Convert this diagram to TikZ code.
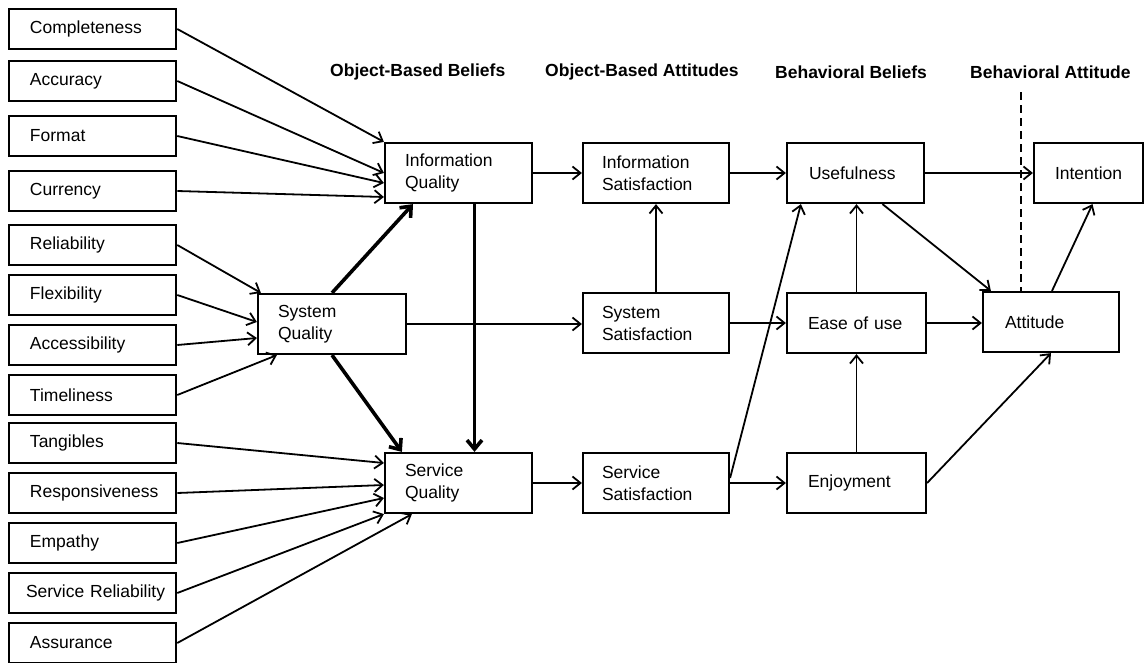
\documentclass[tikz,border=0pt]{standalone}
\usepackage{fontspec}
\setmainfont{Liberation Sans}
\usetikzlibrary{arrows.meta}
\hyphenpenalty=10000
\exhyphenpenalty=10000
\begin{document}
\begin{tikzpicture}[x=1pt,y=-1pt,
  every node/.style={font=\fontsize{17.5}{22}\selectfont},
  src/.style={draw, line width=2.6pt, minimum width=167pt, minimum height=40pt,
    inner ysep=0pt, inner xsep=21pt, text width=125pt, align=left},
  mid/.style={draw, line width=2.2pt, minimum height=60pt, inner ysep=0pt,
    inner xsep=20pt, align=left},
  head/.style={anchor=west, font=\fontsize{17.5}{22}\selectfont\bfseries, inner sep=0pt},
  arr/.style={line width=1.8pt, -{Straight Barb[length=8pt,width=13pt]}},
  thickarr/.style={line width=3.6pt, -{Straight Barb[length=9pt,width=15pt]}}
]
\useasboundingbox (0,0) rectangle (1144,662);

% column headers
\node[head] (h1) at (330,72) {Object-Based Beliefs};
\node[head] (h2) at (545,72) {Object-Based Attitudes};
\node[head] (h3) at (775,72) {Behavioral Beliefs};
\node[head] (h4) at (970,72) {Behavioral Attitude};

% antecedent dimensions
\node[src] (compl) at (92.5,29)  {Completeness};
\node[src] (acc)   at (92.5,81)  {Accuracy};
\node[src] (fmt)   at (92.5,136) {Format};
\node[src] (cur)   at (92.5,191) {Currency};
\node[src] (rel)   at (92.5,245) {Reliability};
\node[src] (flex)  at (92.5,295) {Flexibility};
\node[src] (accs)  at (92.5,345) {Accessibility};
\node[src] (time)  at (92.5,395) {Timeliness};
\node[src] (tang)  at (92.5,443) {Tangibles};
\node[src] (resp)  at (92.5,493) {Responsiveness};
\node[src] (emp)   at (92.5,543) {Empathy};
\node[src, inner xsep=17pt, text width=133pt] (srel) at (92.5,593) {\mbox{Service Reliability}};
\node[src] (assu)  at (92.5,643) {Assurance};

% object-based beliefs
\node[mid, text width=107pt] (iq) at (458.5,173) {Information\\Quality};
\node[mid, text width=108pt] (sq) at (332,324)   {System\\Quality};
\node[mid, text width=107pt] (sv) at (458.5,483) {Service\\Quality};

% object-based attitudes
\node[mid, inner xsep=19pt, text width=108pt] (is)  at (656,173) {Information\\Satisfaction};
\node[mid, inner xsep=19pt, text width=108pt] (ss)  at (656,323) {System\\Satisfaction};
\node[mid, inner xsep=19pt, text width=108pt] (sat) at (656,483) {Service\\Satisfaction};

% behavioral beliefs
\node[mid, inner xsep=22pt, text width=93pt] (use) at (855.5,173) {Usefulness};
\node[mid, inner xsep=21pt, text width=97pt] (eou) at (856.5,323) {Ease of use};
\node[mid, inner xsep=21pt, text width=97pt] (enj) at (856.5,483) {Enjoyment};

% behavioral attitude and intention
\node[mid, inner xsep=22pt, text width=92pt] (att) at (1051,322)   {Attitude};
\node[mid, inner xsep=21pt, text width=67pt] (int) at (1088.5,173) {Intention};

% divider
\coordinate (dtop) at (1021,92);
\draw[line width=2.6pt, dash pattern=on 8pt off 5pt] (dtop) -- (dtop |- att.north);

% information quality dimensions
\draw[arr] (compl.east) -- (iq.north west);
\draw[arr] (acc.east) -- (iq.west);
\draw[arr] (fmt.east) -- ([yshift=-10pt]iq.west);
\draw[arr] (cur.east) -- ([yshift=-24pt]iq.west);

% system quality dimensions
\draw[arr] (rel.east) -- ([xshift=4pt]sq.north west);
\draw[arr] (flex.east) -- ([yshift=2pt]sq.west);
\draw[arr] (accs.east) -- ([yshift=-14pt]sq.west);
\draw[arr] (time.east) -- ([xshift=20pt]sq.south west);

% service quality dimensions
\draw[arr] (tang.east) -- ([yshift=20pt]sv.west);
\draw[arr] (resp.east) -- ([yshift=-2pt]sv.west);
\draw[arr] (emp.east) -- ([yshift=-15pt]sv.west);
\draw[arr] (srel.east) -- (sv.south west);
\draw[arr] (assu.east) -- ([xshift=28pt]sv.south west);

% links between quality constructs
\draw[thickarr] (sq.north) -- ([xshift=-45.5pt]iq.south);
\draw[thickarr] (sq.south) -- ([xshift=18pt]sv.north west);
\draw[thickarr] ([xshift=16pt]iq.south) -- ([xshift=16pt]sv.north);

% quality to satisfaction
\draw[arr] (iq.east) -- (is.west);
\draw[arr] (sq.east) -- (sq.east -| ss.west);
\draw[arr] (sv.east) -- (sat.west);
\draw[arr] (ss.north) -- (is.south);

% satisfaction to behavioral beliefs
\draw[arr] (is.east) -- (use.west);
\draw[arr] (ss.east) -- (ss.east -| eou.west);
\draw[arr] (sat.east) -- (enj.west);
\draw[arr] ([yshift=5pt]sat.east) -- ([xshift=15pt]use.south west);
\draw[arr] (enj.north) -- (eou.south);
\draw[arr] (eou.north) -- (eou.north |- use.south);

% beliefs to attitude and intention
\draw[arr] (eou.east) -- (eou.east -| att.west);
\draw[arr] (use.east) -- (int.west);
\draw[arr] ([xshift=27pt]use.south) -- ([xshift=9pt]att.north west);
\draw[arr] ([xshift=1pt]att.north) -- ([xshift=4pt]int.south);
\draw[arr] (enj.east) -- (att.south);
\end{tikzpicture}
\end{document}
